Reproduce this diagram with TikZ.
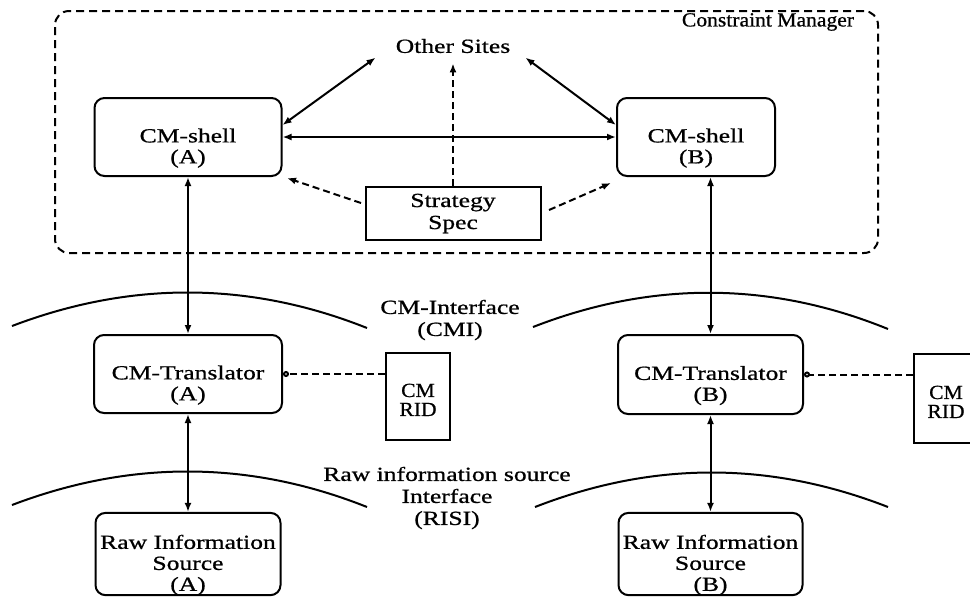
\documentclass[tikz,border=0pt]{standalone}
\usepackage{fontspec}
\setmainfont{Liberation Serif}[FakeStretch=1.28,FakeBold=0.8]
\newfontfamily\narrowfont{Liberation Serif}[FakeStretch=1.08,FakeBold=0.8]
\usetikzlibrary{arrows.meta}
\tikzstyle{every node}+=[inner sep=0pt]
\tikzstyle{unitbox}=[draw, line width=1pt, rounded corners=5pt, align=center, font=\fontsize{10}{10.5}\selectfont]
\tikzstyle{sqbox}=[draw, line width=1pt, align=center, font=\fontsize{10}{11}\selectfont]
\tikzstyle{ridbox}=[draw, line width=1pt, align=center, font=\narrowfont\fontsize{10}{9.5}\selectfont, minimum width=32pt]
\tikzstyle{container}=[draw, line width=1pt, rounded corners=7pt, dash pattern=on 4pt off 2.5pt]
\tikzstyle{tag}=[align=center, font=\fontsize{10}{11}\selectfont]
\tikzstyle{smalltag}=[align=center, font=\narrowfont\fontsize{10}{11}\selectfont]
\tikzstyle{twoway}=[line width=1pt, {Latex[length=4.5pt,width=3.5pt]}-{Latex[length=4.5pt,width=3.5pt]}]
\tikzstyle{dashtip}=[line width=1pt, dash pattern=on 3.5pt off 2pt, -{Latex[length=4.5pt,width=3.5pt]}]
\tikzstyle{ridtip}=[line width=1pt, dash pattern=on 3.5pt off 2pt, -{Circle[open,length=3pt,width=3pt]}]
\tikzstyle{iface}=[line width=1pt]
\newcommand{\low}{\rule{0pt}{18pt}}

\begin{document}
\begin{tikzpicture}[x=0.5pt,y=-0.5pt]
\useasboundingbox (0,0) rectangle (970,596);

\node [container, minimum width=411.5pt, minimum height=121pt] (cm) at (466.5,132) {};
\node [smalltag] (cmname) at (768,22) {Constraint Manager};
\node [tag] (others) at (453,46) {Other Sites};

\node [unitbox, minimum width=93.5pt, minimum height=39pt] (shellA) at (188,137) {\low CM-shell\\(A)};
\node [unitbox, minimum width=79pt, minimum height=39pt] (shellB) at (696,137) {\low CM-shell\\(B)};
\node [sqbox, minimum width=87.5pt, minimum height=26.5pt] (spec) at (453,213.5) {Strategy\\Spec};

\node [unitbox, minimum width=94pt, minimum height=39pt] (translA) at (188,374) {\low CM-Translator\\(A)};
\node [unitbox, minimum width=92.5pt, minimum height=39.5pt] (translB) at (710.5,374.5) {\low CM-Translator\\(B)};
\node [ridbox, minimum height=43.5pt] (ridA) at (418,396.5) {\rule{0pt}{10pt}CM\\RID};
\node [ridbox, minimum height=44.5pt] (ridB) at (946,398.5) {\rule{0pt}{10pt}CM\\RID};

\node [unitbox, minimum width=92.5pt, minimum height=40pt] (rawA) at (188,554) {\low Raw Information\\Source\\(A)};
\node [unitbox, minimum width=92pt, minimum height=40pt] (rawB) at (710.5,554) {\low Raw Information\\Source\\(B)};

\node [tag] (cmi) at (450,320) {CM-Interface\\(CMI)};
\node [tag] (risi) at (447,498) {Raw information source\\Interface\\(RISI)};

\draw [iface] (12,326) .. controls (130,281) and (249,281) .. (367,328);
\draw [iface] (533,327) .. controls (651,281) and (770,281) .. (888,329);
\draw [iface] (12,505) .. controls (130,460) and (249,460) .. (367,507);
\draw [iface] (535,507) .. controls (653,461) and (770,461) .. (888,507);

\draw [twoway] ([shift={(-9.9pt,-2.1pt)}]others.south west) -- ([yshift=6pt]shellA.east);
\draw [twoway] ([shift={(7.4pt,-2.1pt)}]others.south east) -- ([yshift=6pt]shellB.west);
\draw [twoway] (shellA) -- (shellB);
\draw [dashtip] (spec.north) -- ([yshift=-5pt]others.south);
\draw [dashtip] ([shift={(-1.75pt,5.25pt)}]spec.west) -- ([shift={(2.25pt,-0.5pt)}]shellA.south east);
\draw [dashtip] ([shift={(3.75pt,1.75pt)}]spec.east) -- ([shift={(-2.5pt,-3pt)}]shellB.south west);

\draw [twoway] (shellA) -- (translA);
\draw [twoway] (translA) -- (rawA);
\draw [twoway] (translB.north |- shellB.south) -- (translB.north);
\draw [twoway] (translB) -- (rawB);
\draw [ridtip] (ridA.west |- translA.east) -- (translA.east);
\draw [ridtip] (ridB.west |- translB.east) -- (translB.east);
\end{tikzpicture}
\end{document}
